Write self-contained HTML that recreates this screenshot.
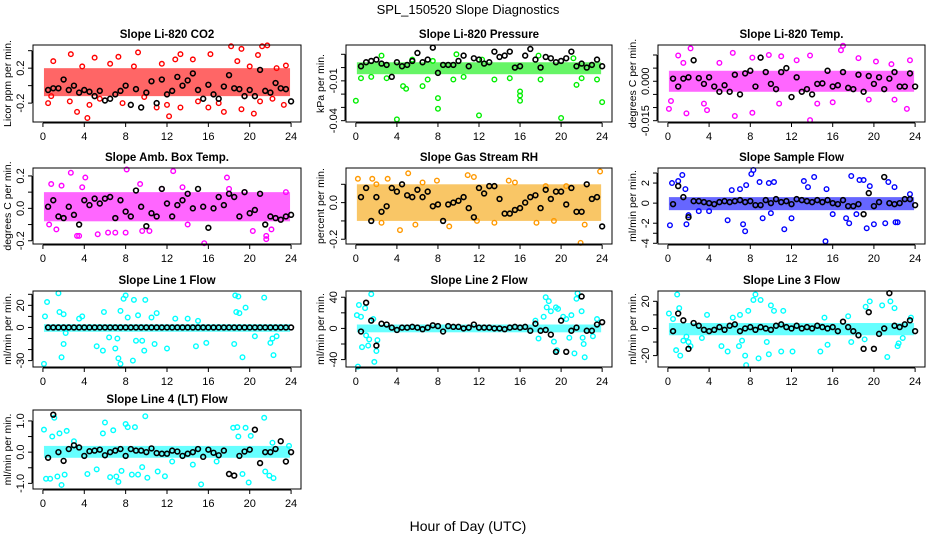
<!DOCTYPE html>
<html><head><meta charset="utf-8"><style>
html,body{margin:0;padding:0;background:#fff}
svg{display:block;font-family:"Liberation Sans",sans-serif}
</style></head><body>
<svg id="chart" width="936" height="540" viewBox="0 0 936 540" xmlns="http://www.w3.org/2000/svg">
<text x="468" y="14" text-anchor="middle" font-size="13">SPL_150520  Slope Diagnostics</text>
<text x="468" y="531" text-anchor="middle" font-size="14">Hour of Day (UTC)</text>
</svg>
<script>
const blackHours=[0.5,1,1.5,2,2.5,3,3.5,4,4.5,5,5.5,6,6.5,7,7.5,8,8.5,9,9.5,10,10.5,11,11.5,12,12.5,13,13.5,14,14.5,15,15.5,16,16.5,17,17.5,18,18.5,19,19.5,20,20.5,21,21.5,22,22.5,23,23.5,24];
const xTicks=[0,4,8,12,16,20,24];

const co2X=[2.7,4.3,3.3,5,7.3,9.2,12.2,12.8,13.3,16.2,18.2,19.2,20.8,21.2,21.7,17.5,19.2,20.4,0.5,2.6,4.5,7.7,11,12,13.3,16,17,22.2,23.3,1,6.5,11.5,14.5,18.8,23.5,0.8,5.5,9.8,15,21,3.8,8.8,20,22.6];
const co2Y=[0.36,-0.37,-0.3,0.32,0.33,0.38,-0.35,0.3,0.36,0.36,0.45,0.42,0.35,0.45,0.46,-0.3,-0.27,-0.32,-0.2,-0.18,-0.22,-0.2,-0.25,-0.22,-0.25,-0.25,-0.2,-0.15,-0.22,0.28,0.25,0.25,0.3,0.28,0.23,-0.12,-0.15,-0.13,-0.18,-0.18,0.22,0.22,0.22,0.2];
const co2B=[-0.05,-0.03,-0.03,0.07,-0.05,0.0,-0.08,-0.05,-0.07,-0.12,-0.06,-0.17,-0.15,-0.1,-0.06,0.0,-0.22,-0.04,-0.25,-0.08,0.05,-0.2,0.07,-0.1,-0.06,0.1,0.0,0.06,0.14,-0.05,-0.15,0.01,-0.1,-0.15,-0.01,0.12,-0.03,-0.04,-0.12,-0.05,-0.12,0.18,-0.06,-0.08,0.03,-0.03,-0.04,-0.18];
const co2Band=[-0.12,0.2];

const presX=[0,4,8,8,12,16,16,16,20,24,4.6,4.9,6.5,21.5,0.5,1.5,3,7,9.5,10.5,13.5,15,18,22,23.5,2.5,9.8,12.3,17.8,21.2,5.5,7.5];
const presY=[-0.025,-0.039,-0.023,-0.031,-0.036,-0.018,-0.021,-0.025,-0.038,-0.026,-0.014,-0.016,-0.014,-0.013,-0.008,-0.007,-0.008,-0.009,-0.009,-0.007,-0.009,-0.008,-0.009,-0.008,-0.009,0.009,0.01,0.006,0.009,0.007,0.006,0.005];
const presB=[0.001,0.004,0.005,0.006,0.003,0.002,-0.007,0.004,0.001,0.002,0.005,0.011,0.004,0.006,0.015,-0.004,0.002,0.002,0.002,0.005,0.009,0.001,0.007,0.006,0.003,0.004,0.012,0.008,0.009,0.012,0.0,0.001,0.009,0.014,0.006,0.0,0.008,0.007,0.004,0.005,0.007,0.012,0.001,0.003,0.0,0.002,0.006,0.001];
const presBand=[-0.005,0.004];

const tempX=[2.2,6.3,9.8,13.8,17,16.8,1,1.5,8.2,11,18.5,23.5,0.1,0.3,1.8,3.8,6.5,8.2,10.8,13.8,16,19.5,23.2,3.5,14.5,22,5,12.5,20.2,21.7];
const tempY=[0.0125,0.0108,0.010,0.0098,0.0135,0.0118,0.0098,0.007,0.009,0.0095,0.0088,0.008,-0.0105,-0.0075,-0.0122,-0.011,-0.0132,-0.012,-0.0085,-0.0148,-0.008,-0.007,-0.0105,-0.0085,-0.0085,-0.007,0.007,0.008,0.0075,0.0065];
const tempB=[0.001,-0.002,0.001,0.0015,0.008,0.0012,-0.001,0.0015,-0.002,-0.004,-0.0015,-0.004,0.0025,-0.005,0.003,0.004,-0.002,0.009,0.0035,-0.001,-0.003,0.0035,0.005,-0.006,0.0015,-0.004,-0.003,-0.005,-0.001,-0.0008,0.004,-0.002,-0.0015,0.0035,-0.0025,-0.003,0.0025,-0.004,0.002,-0.001,0.0015,-0.003,0.001,0.0035,-0.002,-0.002,0.003,-0.002];
const tempBand=[-0.004,0.004];

const ambX=[2.7,4.1,8.1,12.6,17.8,15.6,21.6,21.6,3.3,3.5,5.3,6.3,7,8,9.6,10.3,0.8,1.8,3.8,9.4,13.5,18,23.5,0.6,1.3,14,20.3,22.1,11.5,19.5];
const ambY=[0.22,0.19,0.24,0.23,0.19,-0.215,-0.17,-0.19,-0.17,-0.17,-0.16,-0.15,-0.15,-0.15,-0.14,-0.14,0.15,0.14,0.13,0.15,0.13,0.12,0.1,-0.1,-0.13,-0.1,-0.14,-0.13,0.12,0.1];
const ambB=[0.01,0.05,-0.05,-0.06,0.01,-0.04,-0.1,0.05,0.02,0.06,0.03,0.06,0.07,-0.06,0.05,-0.02,-0.05,0.11,0.01,-0.11,-0.03,-0.05,0.12,0.03,-0.05,0.02,0.05,0.09,0.0,0.12,0.01,-0.12,0.0,0.07,0.02,0.09,0.07,-0.05,0.1,-0.03,-0.01,0.09,-0.1,-0.05,-0.06,-0.07,-0.05,-0.04];
const ambBand=[-0.08,0.1];

const rhX=[0.2,1.6,3.1,5.1,10.9,11.5,14.9,23.8,4.3,9.1,11.8,17.6,21.9,2.5,5.8,13.5,19.3,22.3,7.9,20.5,6.5,15.5,18.5,2];
const rhY=[0.13,0.13,0.13,0.16,0.15,0.14,0.12,0.17,-0.15,-0.13,-0.1,-0.11,-0.22,-0.11,-0.12,-0.11,-0.1,-0.12,0.12,0.09,0.11,0.11,0.09,0.1];
const rhB=[0.03,0.08,-0.1,0.03,-0.05,-0.02,0.08,0.06,0.1,0.04,0.03,0.07,0.03,0.06,-0.02,-0.01,-0.1,-0.01,0.0,0.01,0.03,-0.03,-0.08,0.08,0.05,0.09,0.09,0.02,-0.06,-0.06,-0.04,-0.03,0.0,0.03,0.04,-0.03,0.07,0.02,0.06,0.06,-0.01,0.08,-0.05,-0.05,0.1,0.02,0.03,-0.13];
const rhBand=[-0.1,0.1];

const sampX=[0.2,0.4,1,1.4,1.7,1.8,2,5.8,6.2,7,7.3,7.5,7.6,8.1,8.3,8.9,9.2,9.8,10.3,11.3,12,13.2,13.6,14.2,15.3,15.4,17.3,17.6,17.8,18.6,19,19.3,19.6,20,21.1,21.4,22,22.1,22.3,23.5,3,4,10,16,18.3];
const sampY=[-2.2,2,2.2,2.8,1.4,-2.1,-1.2,-1.7,1.3,1.4,-2.1,-2.8,1.8,2.9,3.3,2.1,-1.5,2,2.1,-2.6,-1.5,2.2,1.6,2.6,-3.8,1.4,-1.5,-2,2.7,2.3,2.3,-2.5,1.7,-2.1,-2,2.1,1.6,-1.9,-1.9,0.9,-0.8,-0.8,-1,-1.1,-1.1];
const sampB=[-0.1,1.7,0.6,-1.4,0.2,0.2,0.1,0.0,-0.1,0.1,0.2,0.1,0.2,0.3,0.1,0.2,-0.2,-0.2,0.3,0.0,0.4,0.1,0.2,-0.1,0.4,0.3,0.2,0.1,0.3,0.1,0.3,0.0,-0.1,0.3,-0.3,-0.3,-0.1,-1.1,1.0,-0.3,0.1,2.6,0.0,-0.1,0.0,0.4,0.4,-0.2];
const sampBand=[-0.7,0.6];

const l1X=[0.2,0.4,0.1,1.5,1.6,1.8,2.0,2.0,2.2,3.5,3.8,5.2,5.8,5.9,6.4,7,7.2,7.3,7.5,7.5,7.8,8,8.2,8.7,8.8,9,9.2,9.6,9.8,9.9,10.5,10.8,11,12,12.8,14,14.8,15.8,18.5,18.6,18.9,18.7,19,19.3,19.6,21.4,22,22.3,22.2,22.6,15,20.5];
const l1Y=[10,23,-33,31,14,-27,-15,12,-5,8,10,-17,-21,14,-9,-19,-10,-28,-33,15,26,29,9,-30,25,-12,11,-12,-21,25,9,-15,13,-19,8,8,-17,-14,-15,29,28,14,13,-27,18,27,-14,-25,-10,-8,6,-8];
const l1B=[0,0,0,0,0,0,0,0,0,0,0,0,0,0,0,0,0,0,0,0,0,0,0,0,0,0,0,0,0,0,0,0,0,0,0,0,0,0,0,0,0,0,0,0,0,0,0,0];
const l1Band=[-4,3];

const l2X=[0.1,0.3,0.5,0.6,0.9,0.2,1.0,1.3,1.5,1.7,1.8,2.0,2.1,1.2,17.5,17.8,18.3,18.5,18.8,18.6,19.0,19.3,19.5,19.7,19.6,20.2,20.5,21,21.3,21.5,21.6,22,22.2,22.3,22.1,23.5,23.1,20.8];
const l2Y=[17,30,15,-24,26,-49,-9,-14,44,12,-43,-29,-15,-22,10,-13,15,40,35,27,22,-17,27,25,-28,15,12,17,-32,38,45,22,-20,-37,-12,12,-10,-12];
const l2B=[-4,33,10,-22,6,5,1,-2,1,1,2,1,-1,1,4,3,-4,3,2,2,0,1,5,1,1,1,0,0,-1,1,2,1,2,-3,6,-3,-2,-8,-30,10,-30,-3,1,41,-3,-3,5,8];
const l2Band=[-5,5];

const l3X=[0.1,0.5,0.9,1.1,0.8,1.2,1.5,1.8,2,2.2,3.3,3.8,5.2,5.8,6.3,6.9,7,7.2,7.5,7.6,7.8,8.3,8.5,8.8,9,9.6,9.8,10,10.3,11,11.2,12.1,15.5,14.8,15.2,17.5,17.8,19.1,19.2,19.6,20.8,21.3,21.6,22,22.3,22.4,22.8,23.6];
const l3Y=[11,7,25,15,-16,-20,-9,-6,-10,-13,-7,10,-13,-17,8,-13,10,-9,-20,-27,13,21,25,-22,21,-10,-19,17,13,-17,13,-17,-12,-17,8,9,-10,-8,16,20,17,-21,20,15,-13,-11,-7,8];
const l3B=[-2,11,6,-15,4,2,-1,-2,-1,1,-1,2,3,-2,0,1,-1,1,0,-1,2,3,1,0,2,0,1,0,2,1,0,1,-2,5,1,-2,-5,-15,12,-15,-4,0,26,2,1,3,6,-2];
const l3Band=[-5,4];

const l4X=[0.1,0.3,0.7,0.9,1.1,1.4,1.8,2.1,1.6,2.3,3,4.3,5.2,5.8,6,6.5,6.8,7.1,7.3,7.6,8.0,8.2,8.6,8.9,9.2,9.6,9.9,10.1,11.1,11.8,15.3,18.4,18.8,18.9,19.3,19.6,19.9,20.1,21.4,21.5,21.9,22.3,22.2,23.8,12.5,14.5,16.8];
const l4Y=[0.72,-0.85,-0.85,0.5,1.1,-0.78,-1.05,-0.72,0.6,0.68,0.35,-0.7,-0.55,0.6,0.95,-0.8,0.7,-0.78,-0.95,-0.6,0.9,0.8,-0.72,0.8,-0.72,-0.48,1.15,-0.82,-0.62,-0.77,-1.03,0.78,0.8,0.5,-0.7,0.78,-0.97,0.52,1.1,-0.62,-0.75,-0.83,0.3,0.2,-0.3,-0.4,-0.3];
const l4B=[-0.18,1.2,0.0,-0.28,0.1,0.22,0.15,-0.12,0.03,0.05,0.08,-0.1,0.0,0.05,0.1,-0.12,0.1,0.05,0.05,0.0,0.12,-0.03,-0.05,-0.05,0.05,0.02,-0.12,-0.05,0.0,0.1,-0.15,0.08,-0.02,-0.1,0.05,-0.7,-0.75,-0.12,0.02,0.08,0.72,-0.35,0.0,0.0,0.1,0.35,-0.3,0.0];
const l4Band=[-0.18,0.2];

const NS='http://www.w3.org/2000/svg';
const svg=document.getElementById('chart');
function mk(tag,attrs,parent){const e=document.createElementNS(NS,tag);for(const k in attrs)e.setAttribute(k,attrs[k]);(parent||svg).appendChild(e);return e;}

const cols=[[33,301],[346,612],[658,925]];
const rows=[[45,122],[168,244],[291,367],[410,489]];
const panels=[
 {id:'co2',title:'Slope Li-820 CO2',ylab:'Licor ppm per min.',c:0,r:0,ymin:-0.416,ymax:0.465,x:co2X,y:co2Y,b:co2B,band:co2Band,color:'#ff0000',bandColor:'#ff0000',ticks:[-0.2,0,0.2,0.4],labels:['-0.2','','0.2','']},
 {id:'pressure',title:'Slope Li-820 Pressure',ylab:'kPa per min.',c:1,r:0,ymin:-0.041,ymax:0.017,x:presX,y:presY,b:presB,band:presBand,color:'#00ee00',bandColor:'#00ee00',ticks:[0.01,0,-0.01,-0.02,-0.03,-0.04],labels:['','','-0.01','','','-0.04']},
 {id:'temp',title:'Slope Li-820 Temp.',ylab:'degrees C per min.',c:2,r:0,ymin:-0.0155,ymax:0.0138,x:tempX,y:tempY,b:tempB,band:tempBand,color:'#ff00ff',bandColor:'#ff00ff',ticks:[0.01,0.005,0,-0.005,-0.01,-0.015],labels:['','','0.000','','','-0.015']},
 {id:'amb-box-temp',title:'Slope Amb. Box Temp.',ylab:'degrees C per min.',c:0,r:1,ymin:-0.22,ymax:0.249,x:ambX,y:ambY,b:ambB,band:ambBand,color:'#ff00ff',bandColor:'#ff00ff',ticks:[-0.2,-0.1,0,0.1,0.2],labels:['-0.2','','0.0','','0.2']},
 {id:'gas-stream-rh',title:'Slope Gas Stream RH',ylab:'percent per min.',c:1,r:1,ymin:-0.226,ymax:0.189,x:rhX,y:rhY,b:rhB,band:rhBand,color:'#ff9900',bandColor:'#f5a000',ticks:[-0.2,-0.1,0,0.1],labels:['-0.2','','0.0','']},
 {id:'sample-flow',title:'Slope Sample Flow',ylab:'ml/min per min.',c:2,r:1,ymin:-4.07,ymax:3.5,x:sampX,y:sampY,b:sampB,band:sampBand,color:'#0000ff',bandColor:'#0000ff',ticks:[-4,-3,-2,0,2,3],labels:['-4','','-2','0','2','']},
 {id:'line1-flow',title:'Slope Line 1 Flow',ylab:'ml/min per min.',c:0,r:2,ymin:-35.8,ymax:33,x:l1X,y:l1Y,b:l1B,band:l1Band,color:'#00ffff',bandColor:'#00ffff',ticks:[-30,-20,-10,0,10,20,30],labels:['-30','','','0','','20','']},
 {id:'line2-flow',title:'Slope Line 2 Flow',ylab:'ml/min per min.',c:1,r:2,ymin:-49.5,ymax:48,x:l2X,y:l2Y,b:l2B,band:l2Band,color:'#00ffff',bandColor:'#00ffff',ticks:[-40,-20,0,20,40],labels:['-40','','0','','40']},
 {id:'line3-flow',title:'Slope Line 3 Flow',ylab:'ml/min per min.',c:2,r:2,ymin:-28.4,ymax:27.6,x:l3X,y:l3Y,b:l3B,band:l3Band,color:'#00ffff',bandColor:'#00ffff',ticks:[-20,-10,0,10,20],labels:['-20','','0','','20']},
 {id:'line4-flow',title:'Slope Line 4 (LT) Flow',ylab:'ml/min per min.',c:0,r:3,ymin:-1.18,ymax:1.35,x:l4X,y:l4Y,b:l4B,band:l4Band,color:'#00ffff',bandColor:'#00ffff',ticks:[-1,-0.5,0,0.5,1],labels:['-1.0','','0.0','','1.0']}
];

panels.forEach(p=>{
 const [x0,x1]=cols[p.c],[y0,y1]=rows[p.r];
 const xmin=-0.96,xmax=24.96;
 const sx=v=>x0+(v-xmin)/(xmax-xmin)*(x1-x0);
 const sy=v=>y1-(v-p.ymin)/(p.ymax-p.ymin)*(y1-y0);
 const g=mk('g',{});
 
 
 const t=mk('text',{x:(x0+x1)/2,y:y0-7,'text-anchor':'middle','font-size':'11.5','font-weight':'bold'},g);
 
 
 t.textContent=p.title;
 const band=mk('rect',{x:sx(0.1),y:sy(p.band[1]),width:sx(23.9)-sx(0.1),height:sy(p.band[0])-sy(p.band[1]),fill:p.bandColor,'fill-opacity':'0.6'},g);
 
 
 p.x.forEach((xv,i)=>{
  const c=mk('circle',{cx:sx(xv),cy:sy(p.y[i]),r:2.3,fill:'none',stroke:p.color,'stroke-width':1.4},g);
  
  
 });
 p.b.forEach((yv,i)=>{
  const c=mk('circle',{cx:sx(blackHours[i]),cy:sy(yv),r:2.4,fill:'none',stroke:'#000','stroke-width':1.6},g);
  
  
 });
 const box=mk('rect',{x:x0,y:y0,width:x1-x0,height:y1-y0,fill:'none',stroke:'#000','stroke-width':1},g);
 
 
 const xa=mk('g',{},g);
 
 
 mk('line',{x1:sx(0),x2:sx(24),y1:y1+1,y2:y1+1,stroke:'#000'},xa);
 xTicks.forEach(v=>{
  mk('line',{x1:sx(v),x2:sx(v),y1:y1+1,y2:y1+5,stroke:'#000'},xa);
  const tl=mk('text',{x:sx(v),y:y1+18,'text-anchor':'middle','font-size':'11'},xa);
  
  
  tl.textContent=v;
 });
 const ya=mk('g',{},g);
 
 
 const tv=p.ticks;
 mk('line',{x1:x0-1,x2:x0-1,y1:sy(Math.max(...tv)),y2:sy(Math.min(...tv)),stroke:'#000'},ya);
 tv.forEach((v,i)=>{
  mk('line',{x1:x0-1,x2:x0-5,y1:sy(v),y2:sy(v),stroke:'#000'},ya);
  if(p.labels[i]){
   const tl=mk('text',{x:0,y:0,'text-anchor':'middle','font-size':'11',transform:`translate(${x0-9},${sy(v)}) rotate(-90)`},ya);
   
   
   tl.textContent=p.labels[i];
  }
 });
 const yl=mk('text',{x:0,y:0,'text-anchor':'middle','font-size':'10.5',transform:`translate(${x0-22},${(y0+y1)/2}) rotate(-90)`},g);
 
 
 yl.textContent=p.ylab;
});
</script>
</body></html>
